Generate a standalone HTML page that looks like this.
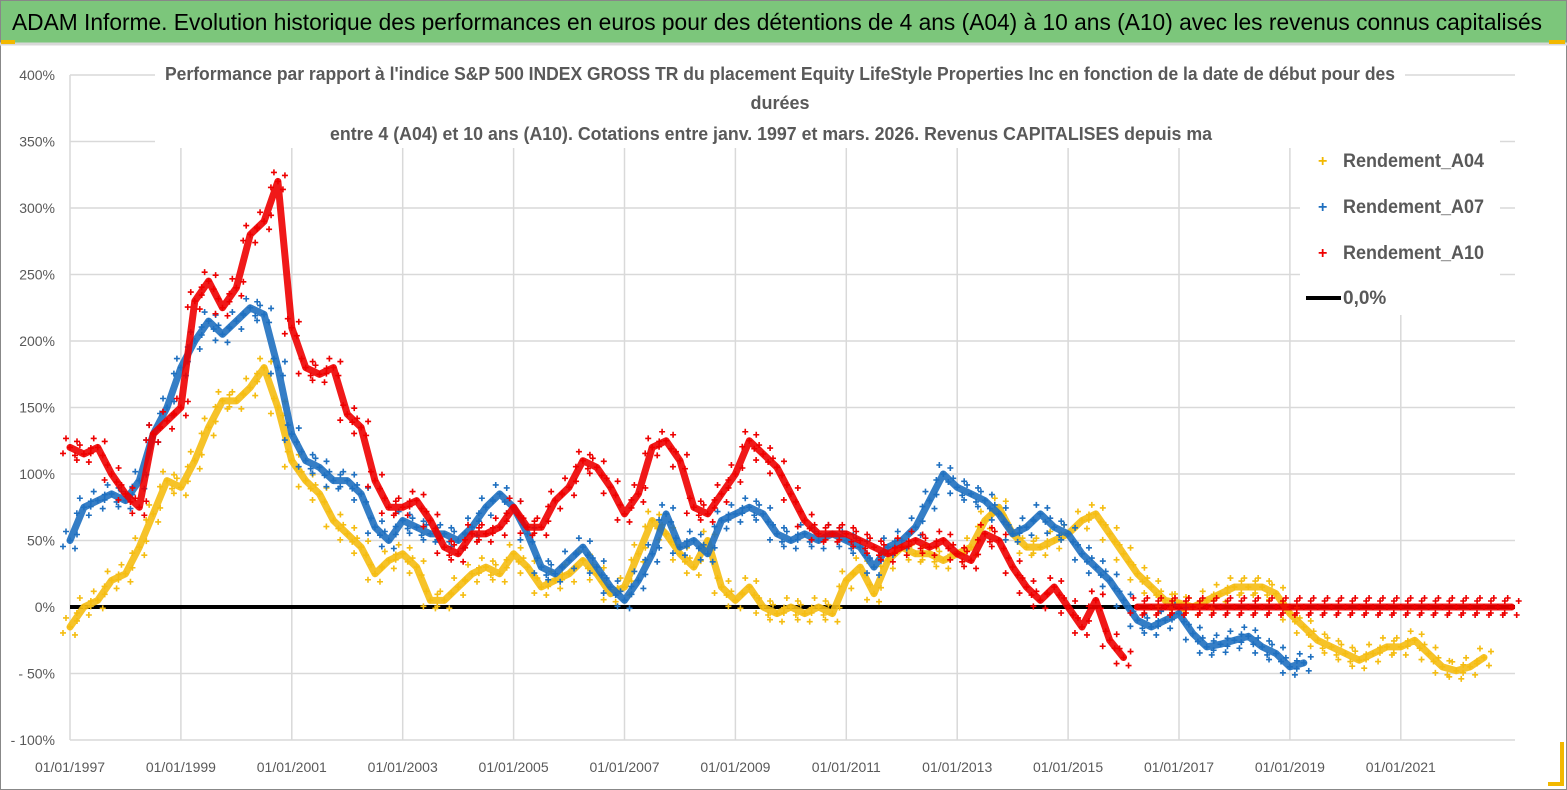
<!DOCTYPE html>
<html><head><meta charset="utf-8"><style>
html,body{margin:0;padding:0;background:#fff;}
svg{display:block;font-family:"Liberation Sans",sans-serif;}
</style></head><body>
<svg id="chart" width="1567" height="790" viewBox="0 0 1567 790">
<rect x="0" y="0" width="1567" height="790" fill="#fff" stroke="#888" stroke-width="2"/>
<rect x="1" y="1" width="1565" height="42" fill="#7cc67b"/>
<line x1="0" y1="44" x2="1567" y2="44" stroke="#d8d8d8" stroke-width="3"/>
<rect x="1" y="40" width="14" height="4" fill="#f2b800"/>
<rect x="1549" y="40" width="16" height="4" fill="#f2b800"/>
<path d="M1562 742 V784 H1548" fill="none" stroke="#f2b800" stroke-width="4"/>
<text x="12" y="30" font-size="23" fill="#000" textLength="1530" lengthAdjust="spacingAndGlyphs">ADAM Informe. Evolution historique des performances en euros pour des détentions de 4 ans (A04) à 10 ans (A10) avec les revenus connus capitalisés</text>
<g id="grid"></g>
<g font-size="18" font-weight="bold" fill="#595959">
<rect x="155" y="60" width="1250" height="88" fill="#fff"/>
<text x="165" y="80" textLength="1230" lengthAdjust="spacingAndGlyphs">Performance par rapport à l'indice S&amp;P 500 INDEX GROSS TR  du placement Equity LifeStyle Properties Inc en fonction de la date de début pour des</text>
<text x="780" y="109" text-anchor="middle">durées</text>
<text x="330" y="140" textLength="882" lengthAdjust="spacingAndGlyphs">entre 4 (A04) et 10 ans (A10). Cotations entre janv. 1997 et mars. 2026. Revenus CAPITALISES depuis ma</text>
</g>
<g id="axes"></g>
<g id="series"></g>
<g font-size="19" font-weight="bold" fill="#595959">
<rect x="1300" y="140" width="200" height="175" fill="#fff"/>
<g><text x="1318" y="166" fill="#f2b800" font-size="16">+</text><text x="1343" y="167" textLength="141" lengthAdjust="spacingAndGlyphs">Rendement_A04</text></g>
<g><text x="1318" y="212" fill="#1f6fbf" font-size="16">+</text><text x="1343" y="213" textLength="141" lengthAdjust="spacingAndGlyphs">Rendement_A07</text></g>
<g><text x="1318" y="258" fill="#e00" font-size="16">+</text><text x="1343" y="259" textLength="141" lengthAdjust="spacingAndGlyphs">Rendement_A10</text></g>
<g><line x1="1306" y1="298" x2="1341" y2="298" stroke="#000" stroke-width="4"/><text x="1343" y="304">0,0%</text></g>
</g>
</svg>
<script>
const yTicks=[400,350,300,250,200,150,100,50,0,-50,-100];
const xTickYears=[1997,1999,2001,2003,2005,2007,2009,2011,2013,2015,2017,2019,2021];
const a04Start=1997, a07Start=1997, a10Start=1997, a10ZeroStart=2016.25;
const a04=[-15,0,5,20,25,45,70,95,90,110,135,155,155,165,180,150,110,95,85,65,55,45,25,35,40,30,5,5,15,25,30,25,40,30,15,20,25,35,25,10,15,40,65,55,40,30,50,15,5,15,0,-5,0,-5,0,-5,20,30,10,35,45,40,40,35,40,45,65,75,55,45,45,50,55,65,70,55,40,25,15,5,3,0,5,10,15,15,15,10,-5,-15,-25,-30,-35,-40,-35,-30,-30,-25,-35,-45,-48,-45,-38];
const a07=[50,75,80,85,80,95,130,150,180,200,215,205,215,225,220,180,130,110,105,95,95,85,60,50,65,60,55,55,50,60,75,85,75,55,30,25,35,45,30,15,5,20,40,70,45,50,40,65,70,75,70,55,50,55,50,55,50,45,30,45,50,60,80,100,90,85,80,70,55,60,70,60,55,40,30,20,5,-10,-15,-10,-5,-20,-30,-28,-25,-22,-30,-35,-45,-42];
const a10=[120,115,120,100,85,75,130,140,150,230,245,225,240,280,290,320,210,180,175,180,145,135,95,75,75,80,65,45,40,55,55,60,75,60,60,80,90,110,105,90,70,85,120,125,110,75,70,85,100,125,115,105,85,65,55,55,55,50,45,40,45,50,45,50,40,35,55,50,30,15,5,15,0,-15,5,-25,-38];
const a10Zero=[0,0,0,0,0,0,0,0,0,0,0,0,0,0,0,0,0,0,0,0,0,0,0,0,0,0,0,0];
const zeroLine=[0];
const NS="http://www.w3.org/2000/svg";
const x=yr=>70+(yr-1997)*55.45;
const y=v=>607-v*1.33;
const grid=document.getElementById('grid'),axes=document.getElementById('axes'),ser=document.getElementById('series');
function mk(tag,attrs,parent){const e=document.createElementNS(NS,tag);for(const k in attrs)e.setAttribute(k,attrs[k]);parent.appendChild(e);return e;}
yTicks.forEach(v=>{
 const l=mk('line',{x1:70,x2:1515,y1:y(v),y2:y(v),stroke:'#d9d9d9','stroke-width':1.5},grid);
 
 
 const t=mk('text',{x:55,y:y(v)+5,'text-anchor':'end','font-size':14,fill:'#595959'},axes);
 
 
 t.textContent=(v<0?'- '+(-v):v)+'%';
});
xTickYears.forEach(yr=>{
 const l=mk('line',{x1:x(yr),x2:x(yr),y1:y(400),y2:y(-100),stroke:'#d9d9d9','stroke-width':1.5},grid);
 
 
 const t=mk('text',{x:x(yr),y:772,'text-anchor':'middle','font-size':14,fill:'#595959'},axes);
 
 
 t.textContent='01/01/'+yr;
});
const zl=mk('line',{x1:70,x2:1515,y1:y(zeroLine[0]),y2:y(zeroLine[0]),stroke:'#000','stroke-width':4},ser);


function draw(arr,start,color,name,w){
 const g=mk('g',{},ser);
 
 
 const pts=arr.map((v,i)=>x(start+i*0.25).toFixed(1)+','+y(v).toFixed(1)).join(' ');
 mk('polyline',{points:pts,fill:'none',stroke:color,'stroke-width':w,'stroke-linejoin':'round','stroke-linecap':'round','opacity':0.9},g);
 arr.forEach((v,i)=>{
  const cx=x(start+i*0.25),cy=y(v);
  [[-4,-9],[5,8],[0,0],[-7,6],[7,-6]].forEach(o=>{
   const p=mk('path',{d:`M${cx+o[0]-3} ${cy+o[1]}h6M${cx+o[0]} ${cy+o[1]-3}v6`,stroke:color,'stroke-width':1.6},g);
   
   
  });
 });
}
draw(a04,a04Start,'#f5bd12','series-a04',7);
draw(a07,a07Start,'#1f70c0','series-a07',7);
draw(a10,a10Start,'#ee0000','series-a10',7);
draw(a10Zero,a10ZeroStart,'#ee0000','series-a10-zero',7);
</script>
</body></html>
